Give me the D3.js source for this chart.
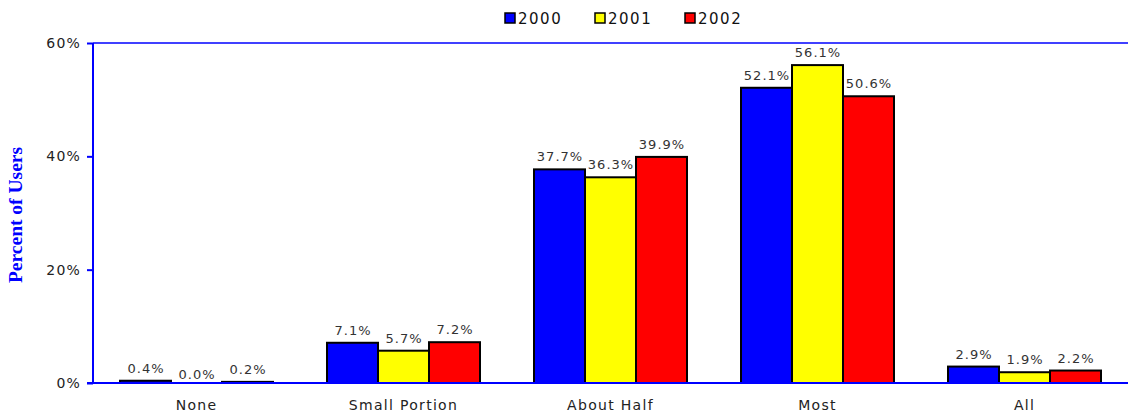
<!DOCTYPE html>
<html><head><meta charset="utf-8">
<script src="https://cdn.jsdelivr.net/npm/d3@7"></script>
<style>body{margin:0;background:#fff;} svg{display:block;}</style>
</head><body>
<svg id="c" width="1128" height="417"></svg>
<script>
const categories = ["None", "Small Portion", "About Half", "Most", "All"];
const seriesNames = ["2000", "2001", "2002"];
const values2000 = [0.4, 7.1, 37.7, 52.1, 2.9];
const values2001 = [0.0, 5.7, 36.3, 56.1, 1.9];
const values2002 = [0.2, 7.2, 39.9, 50.6, 2.2];
const yTicks = [0, 20, 40, 60];
const colors = ["#0000ff", "#ffff00", "#ff0000"];
const series = [values2000, values2001, values2002];

const svg = d3.select("#c");
const m = {l: 93, r: 0, t: 43, b: 34};
const W = 1128, H = 417;
const x0 = d3.scaleBand().domain(categories).range([m.l, W - m.r]).paddingInner(0).paddingOuter(0);
const x1 = d3.scaleBand().domain(seriesNames).range([27, x0.bandwidth() - 27]);
const y = d3.scaleLinear().domain([0, 60]).range([H - m.b, m.t]);
const font = "'DejaVu Sans', Verdana, sans-serif";

// top line
svg.append("line").attr("x1", m.l).attr("x2", W).attr("y1", y(60)).attr("y2", y(60))
  .attr("stroke", "#0000ff").attr("stroke-width", 1.5);

// bars
seriesNames.forEach((s, si) => {
  const g = svg.append("g");
  categories.forEach((c, ci) => {
    const v = series[si][ci];
    const bx = x0(c) + x1(s);
    if (v > 0) {
      g.append("rect").attr("x", bx).attr("y", y(v)).attr("width", x1.bandwidth())
        .attr("height", y(0) - y(v)).attr("fill", colors[si]).attr("stroke", "#000").attr("stroke-width", 2);
    }
    g.append("text").attr("x", bx + x1.bandwidth() / 2 + 0.5).attr("y", y(v) - (v > 0 ? 8 : 4))
      .attr("text-anchor", "middle").attr("font-family", font).attr("font-size", 13)
      .attr("letter-spacing", 1).attr("fill", "#333").text(v.toFixed(1) + "%");
  });
});

// y axis
const ya = svg.append("g").attr("transform", `translate(${m.l},0)`)
  .call(d3.axisLeft(y).tickValues(yTicks).tickFormat(d => d + "%").tickSize(6).tickPadding(6));
ya.select(".domain").attr("stroke", "#0000ff").attr("stroke-width", 2).attr("d", `M0,${y(60)}V${y(0)}`);
ya.selectAll(".tick line").attr("stroke", "#0000ff").attr("stroke-width", 2);
ya.selectAll(".tick text").attr("font-family", font).attr("font-size", 14).attr("letter-spacing", 1.2).attr("fill", "#222");

// x axis
const xa = svg.append("g").attr("transform", `translate(0,${y(0)})`)
  .call(d3.axisBottom(x0).tickSize(0).tickPadding(17));
xa.select(".domain").attr("stroke", "#0000ff").attr("stroke-width", 2).attr("d", `M${m.l - 6},0H${W}`);
xa.selectAll(".tick text").attr("font-family", font).attr("font-size", 14).attr("letter-spacing", 1.3).attr("fill", "#222");

// y title
svg.append("text").attr("transform", `translate(22,${(y(0) + y(60)) / 2 + 2}) rotate(-90)`)
  .attr("text-anchor", "middle").attr("font-family", "'Liberation Serif', 'Times New Roman', serif")
  .attr("font-weight", "bold").attr("font-size", 19.5).attr("fill", "#0000ff").text("Percent of Users");

// legend
const legX = [505, 595, 685];
seriesNames.forEach((s, i) => {
  svg.append("rect").attr("x", legX[i]).attr("y", 13).attr("width", 10).attr("height", 10)
    .attr("fill", colors[i]).attr("stroke", "#000").attr("stroke-width", 1.5);
  svg.append("text").attr("x", legX[i] + 13).attr("y", 24).attr("font-family", font)
    .attr("font-size", 15).attr("letter-spacing", 1.5).attr("fill", "#111").text(s);
});
</script>
</body></html>
